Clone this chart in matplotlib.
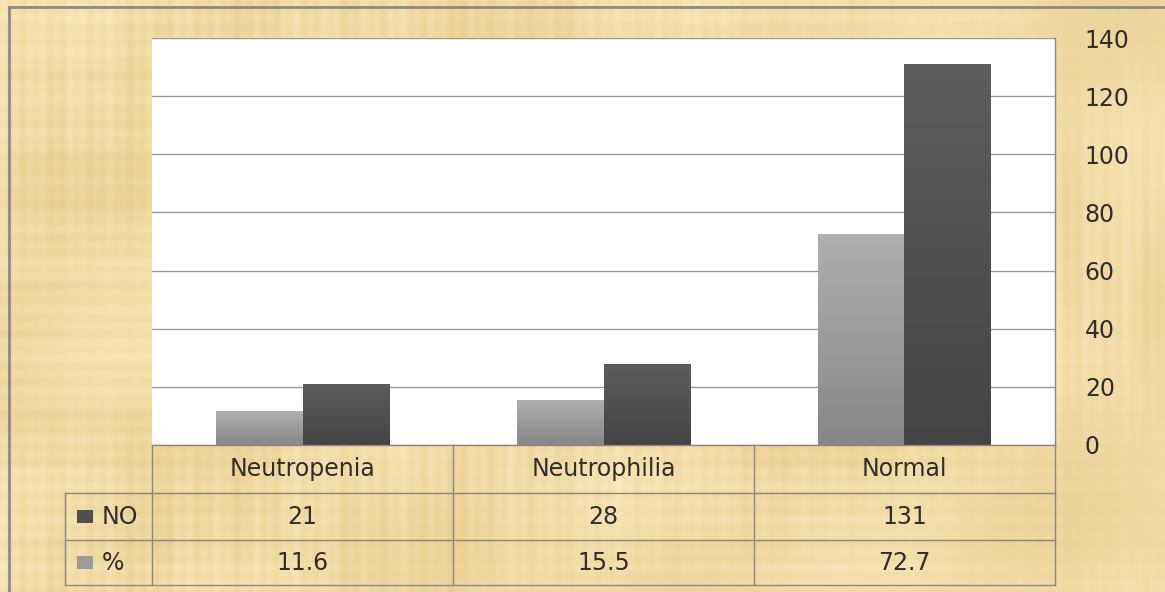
import numpy as np
import matplotlib
matplotlib.use("Agg")
import matplotlib.pyplot as plt
import matplotlib.transforms as mtransforms
from matplotlib.colors import LinearSegmentedColormap
from matplotlib.patches import Rectangle
from matplotlib.lines import Line2D

# ---- data ----
categories = ["Neutropenia", "Neutrophilia", "Normal"]
counts = [21, 28, 131]
percents = [11.6, 15.5, 72.7]
series_names = ["NO", "%"]
y_ticks = [0, 20, 40, 60, 80, 100, 120, 140]

# ---- styling ----
FONT = "DejaVu Sans"
FS = 17
TXT = "#2e2e2e"
LINE = "#878787"
PCT_TOP, PCT_BOT = "#b0b0b0", "#878787"
NO_TOP, NO_BOT = "#5d5d5d", "#444444"

W, H = 1165, 592
fig = plt.figure(figsize=(W / 100, H / 100), dpi=100)

# parchment backdrop with fibre-like streaks running both ways
yy, xx = np.mgrid[0:H, 0:W].astype(float)
vert = (0.30 * np.sin(xx * 0.47 + 0.4) + 0.25 * np.sin(xx * 0.173 + 1.3)
        + 0.20 * np.sin(xx * 0.061 + 2.1))
vert *= 0.6 + 0.4 * np.sin(yy * 0.013 + xx * 0.004)
horz = (0.25 * np.sin(yy * 0.39 + 0.5) + 0.20 * np.sin(yy * 0.147)
        + 0.20 * np.sin(yy * 0.053 + 1.1))
horz *= 0.6 + 0.4 * np.sin(xx * 0.009 + 0.7)
blotch = (0.35 * np.sin(xx * 0.021 + yy * 0.015)
          + 0.30 * np.sin(xx * 0.008 - yy * 0.024 + 2.0))
streak = vert + horz + blotch
base = np.array([240, 219, 163], float)
tint = np.array([6, 9, 15], float)
tex = base[None, None, :] + streak[..., None] * tint[None, None, :]
tex = np.clip(tex, 0, 255) / 255.0

bg = fig.add_axes([0, 0, 1, 1], zorder=-10)
bg.imshow(tex, extent=[0, W, H, 0], aspect="auto", interpolation="bilinear")
bg.set_xlim(0, W)
bg.set_ylim(H, 0)
bg.axis("off")
# frame edge along the top and left
bg.add_line(Line2D([9, W], [7, 7], color="#8a8a8a", lw=2))
bg.add_line(Line2D([9, 9], [7, H], color="#8a8a8a", lw=2))

# ---- plot area ----
ax = fig.add_axes([152 / W, 1 - 445 / H, 903 / W, 407 / H])
ax.set_facecolor("white")
x = np.arange(len(categories))
bw = 0.286

bars_pct = ax.bar(x - bw / 2, percents, bw, color=PCT_BOT, zorder=3)
bars_no = ax.bar(x + bw / 2, counts, bw, color=NO_BOT, zorder=3)


def shade(bars, top, bottom):
    cmap = LinearSegmentedColormap.from_list("shade", [bottom, top])
    grad = np.linspace(1, 0, 256).reshape(-1, 1)
    for b in bars:
        x0, w, h = b.get_x(), b.get_width(), b.get_height()
        im = ax.imshow(grad, extent=[x0, x0 + w, 0, h], aspect="auto",
                       cmap=cmap, vmin=0, vmax=1, zorder=4)
        im.set_clip_path(b)


shade(bars_pct, PCT_TOP, PCT_BOT)
shade(bars_no, NO_TOP, NO_BOT)

ax.set_xlim(-0.5, len(categories) - 0.5)
ax.set_ylim(0, 140)
ax.set_xticks([])
ax.yaxis.tick_right()
ax.set_yticks(y_ticks)
ax.tick_params(axis="y", length=0, pad=21.5, labelsize=FS, labelcolor=TXT)
for lab in ax.get_yticklabels():
    lab.set_fontfamily(FONT)
ax.grid(axis="y", color="#9a9a9a", lw=1)
ax.set_axisbelow(True)
for side in ("top", "left", "bottom"):
    ax.spines[side].set_visible(False)
ax.spines["right"].set_color(LINE)
ax.spines["right"].set_linewidth(1)

# ---- data table under the chart ----
tr = mtransforms.blended_transform_factory(ax.transData, ax.transAxes)
px = 1.0 / 407  # one pixel in axes height
y_hdr = -48 * px
y_no = -95 * px
y_pct = -140 * px
x_left = -0.5 - 87 / 301
x_right = len(categories) - 0.5


def hline(y, x0, x1):
    ax.add_line(Line2D([x0, x1], [y, y], transform=tr, color=LINE, lw=1,
                       clip_on=False, zorder=5))


def vline(xv, y0, y1):
    ax.add_line(Line2D([xv, xv], [y0, y1], transform=tr, color=LINE, lw=1,
                       clip_on=False, zorder=5))


hline(0, -0.5, x_right)
for yv in (y_hdr, y_no, y_pct):
    hline(yv, x_left, x_right)
for i in range(len(categories) + 1):
    vline(i - 0.5, y_pct, 0)
vline(x_left, y_pct, y_hdr)

txt_kw = dict(transform=tr, ha="center", va="center", fontsize=FS,
              color=TXT, family=FONT, clip_on=False)
for i, cat in enumerate(categories):
    ax.text(i, y_hdr / 2, cat, **txt_kw)
    ax.text(i, (y_hdr + y_no) / 2, f"{counts[i]}", **txt_kw)
    ax.text(i, (y_no + y_pct) / 2, f"{percents[i]:.1f}", **txt_kw)

# legend keys in the row headers
key_x = -0.5 - 75 / 301
key_w = 16 / 301
key_h = 13 * px
for name, col, (r0, r1) in zip(series_names, ["#4f4f4f", "#9c9c9c"],
                               [(y_hdr, y_no), (y_no, y_pct)]):
    mid = (r0 + r1) / 2
    ax.add_patch(Rectangle((key_x, mid - key_h / 2), key_w, key_h,
                           transform=tr, facecolor=col, edgecolor="none",
                           clip_on=False, zorder=5))
    ax.text(-0.5 - 50 / 301, mid, name, transform=tr, ha="left", va="center",
            fontsize=FS, color=TXT, family=FONT, clip_on=False)

fig.savefig("out.png", dpi=100)
